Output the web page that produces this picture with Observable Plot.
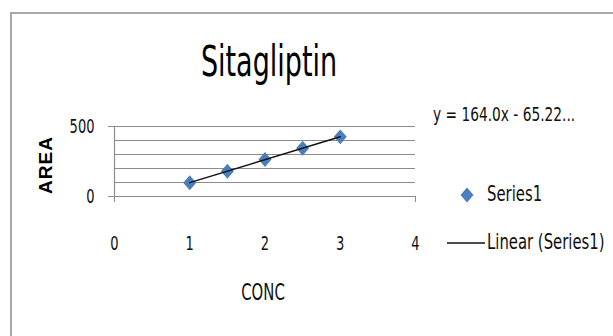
<!DOCTYPE html>
<html>
<head>
<meta charset="utf-8">
<script src="https://cdn.jsdelivr.net/npm/d3@7"></script>
<script src="https://cdn.jsdelivr.net/npm/@observablehq/plot@0.6"></script>
<style>
  html, body { margin: 0; padding: 0; background: #fff; }
  #wrap { position: relative; width: 613px; height: 336px; overflow: hidden; background: #fff;
          font-family: "Liberation Sans Narrow", "Arial Narrow", "DejaVu Sans Condensed", sans-serif; color: #000; }
  #frame { position: absolute; left: 10px; top: 12px; width: 640px; height: 400px;
           border: 2px solid #a8a8a8; box-sizing: border-box; }
  #chart { position: absolute; left: 0; top: 0; }
  .txt { position: absolute; white-space: nowrap; line-height: 1; }
  #title { left: 119px; width: 300px; top: 46.5px; text-align: center; font-size: 30px; transform: scaleY(1.42); }
  #eq { left: 433px; top: 107.6px; font-size: 15.3px; transform: scaleY(1.3); color: #111; }
  #ylab { left: 45px; top: 165px; font-family: "Liberation Sans", Arial, sans-serif; font-weight: bold; font-size: 19px;
          transform: translate(-50%, -50%) rotate(-90deg); letter-spacing: 1px; }
  #xlab { left: 263px; top: 293px; font-size: 16.5px; transform: translate(-50%, -50%) scaleY(1.4); color: #111; }
  .leg { left: 487px; font-size: 16.5px; transform: translateY(-50%) scaleY(1.3); color: #111; }
  #legsvg { position: absolute; left: 0; top: 0; }
</style>
</head>
<body>
<div id="wrap">
  <div id="frame"></div>
  <div id="chart"></div>
  <div id="title" class="txt"></div>
  <div id="eq" class="txt"></div>
  <div id="ylab" class="txt"></div>
  <div id="xlab" class="txt"></div>
  <div id="leg1" class="txt leg" style="top:195px"></div>
  <div id="leg2" class="txt leg" style="top:243px"></div>
</div>
<script>
// ---- data ----
const titleText = "Sitagliptin";
const xLabel = "CONC";
const yLabel = "AREA";
const equationText = "y = 164.0x - 65.22...";
const seriesNames = ["Series1", "Linear (Series1)"];
const conc = [1, 1.5, 2, 2.5, 3];
const area = [98, 181, 265, 344, 426];
const xTicks = [0, 1, 2, 3, 4];
const xTickMarks = [0, 4];
const yTicks = [0, 500];
const yGrid = [0, 100, 200, 300, 400, 500];

const data = conc.map((c, i) => ({conc: c, area: area[i]}));
const blue = "#4a7ebd";
const gray = "#8c8c8c";
const narrow = '"Liberation Sans Narrow", "Arial Narrow", "DejaVu Sans Condensed", sans-serif';
const ns = "http://www.w3.org/2000/svg";

const diamond = {
  draw(context, size) {
    const r = Math.sqrt(size / Math.PI);
    const w = r * 1.0, h = r * 1.15;
    context.moveTo(0, -h);
    context.lineTo(w, 0);
    context.lineTo(0, h);
    context.lineTo(-w, 0);
    context.closePath();
  }
};

const chart = Plot.plot({
  width: 613,
  height: 336,
  marginLeft: 114,
  marginRight: 198,
  marginTop: 126,
  marginBottom: 140,
  x: {domain: [0, 4]},
  y: {domain: [0, 500]},
  style: {fontFamily: narrow, fontSize: "14.5px", color: "#000", background: "transparent", overflow: "visible"},
  marks: [
    Plot.gridY(yGrid, {stroke: gray, strokeOpacity: 1, strokeWidth: 1.2}),
    Plot.ruleX([0], {y1: 0, y2: 500, stroke: gray, strokeWidth: 1.2}),
    Plot.axisY(yTicks, {tickSize: 6, tickPadding: 14, stroke: gray, label: null, fill: "#111"}),
    Plot.axisX(xTicks, {tickSize: 0, tickPadding: 41, label: null, fill: "#111"}),
    Plot.axisX(xTickMarks, {tickSize: 6, text: null, label: null, stroke: gray}),
    Plot.dot(data, {x: "conc", y: "area", symbol: diamond, r: 6.5, fill: blue, stroke: "none"}),
    Plot.linearRegressionY(data, {x: "conc", y: "area", stroke: "#111", strokeWidth: 1.5, ci: 0})
  ]
});
document.getElementById("chart").appendChild(chart);

// stretch tick labels vertically around their own centre (mimics the tall narrow face)
chart.querySelectorAll("text").forEach(el => {
  const b = el.getBBox();
  let cy = b.y + b.height / 2, cx = b.x + b.width / 2;
  const m = el.transform.baseVal.consolidate();
  if (m) {
    const mm = m.matrix;
    cy = mm.b * cx + mm.d * cy + mm.f;
  }
  const g = document.createElementNS(ns, "g");
  g.setAttribute("transform", `translate(0,${cy}) scale(1,1.38) translate(0,${-cy})`);
  el.parentNode.insertBefore(g, el);
  g.appendChild(el);
});

document.getElementById("title").textContent = titleText;
document.getElementById("eq").textContent = equationText;
document.getElementById("ylab").textContent = yLabel;
document.getElementById("xlab").textContent = xLabel;
document.getElementById("leg1").textContent = seriesNames[0];
document.getElementById("leg2").textContent = seriesNames[1];

// legend symbols
const lsvg = document.createElementNS(ns, "svg");
lsvg.setAttribute("id", "legsvg");
lsvg.setAttribute("width", 613);
lsvg.setAttribute("height", 336);
const dp = d3.path();
diamond.draw(dp, Math.PI * 6.5 * 6.5);
const dg = document.createElementNS(ns, "path");
dg.setAttribute("d", dp.toString());
dg.setAttribute("transform", "translate(467,195)");
dg.setAttribute("fill", blue);
lsvg.appendChild(dg);
const ln = document.createElementNS(ns, "line");
ln.setAttribute("x1", 447); ln.setAttribute("x2", 485);
ln.setAttribute("y1", 243); ln.setAttribute("y2", 243);
ln.setAttribute("stroke", "#111"); ln.setAttribute("stroke-width", 1.5);
lsvg.appendChild(ln);
document.getElementById("wrap").appendChild(lsvg);
</script>
</body>
</html>
